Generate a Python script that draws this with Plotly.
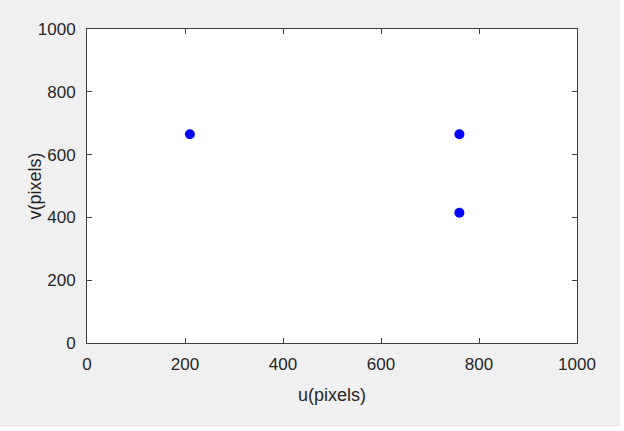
import plotly.graph_objects as go

# point coordinates
u_pixels = [210, 760, 760]
v_pixels = [665, 665, 415]

tick_vals = [0, 200, 400, 600, 800, 1000]
tick_text = ["0", "200", "400", "600", "800", "1000"]

fig = go.Figure()

fig.add_trace(
    go.Scatter(
        x=u_pixels,
        y=v_pixels,
        mode="markers",
        marker=dict(color="#0000ff", size=10, symbol="circle", line=dict(width=0)),
        showlegend=False,
    )
)

axis_style = dict(
    range=[0, 1000],
    tickvals=tick_vals,
    ticktext=tick_text,
    ticks="inside",
    ticklen=5,
    tickcolor="#404040",
    showline=True,
    linecolor="#404040",
    linewidth=1,
    mirror="ticks",
    showgrid=False,
    zeroline=False,
    tickfont=dict(size=17, color="#262626"),
)

fig.update_layout(
    width=620,
    height=427,
    paper_bgcolor="#f0f0f0",
    plot_bgcolor="white",
    font=dict(family="Liberation Sans, Arial, sans-serif", color="#262626"),
    margin=dict(l=87, r=43, t=29, b=84),
    xaxis=dict(
        **axis_style,
        ticklabelstandoff=6,
        title=dict(text="u(pixels)", font=dict(size=18), standoff=14),
    ),
    yaxis=dict(**axis_style, ticklabelstandoff=7),
)

# y title sits closer to the tick labels than plotly's standoff allows
fig.add_annotation(
    text="v(pixels)",
    xref="paper",
    yref="paper",
    x=-0.107,
    y=0.5,
    xanchor="center",
    yanchor="middle",
    textangle=-90,
    showarrow=False,
    font=dict(size=18, color="#262626"),
)

# drop the page margin so the figure sits at the top-left corner
fig.write_html(
    "out.html",
    config={"displayModeBar": False},
    post_script="document.body.style.margin='0';",
)
